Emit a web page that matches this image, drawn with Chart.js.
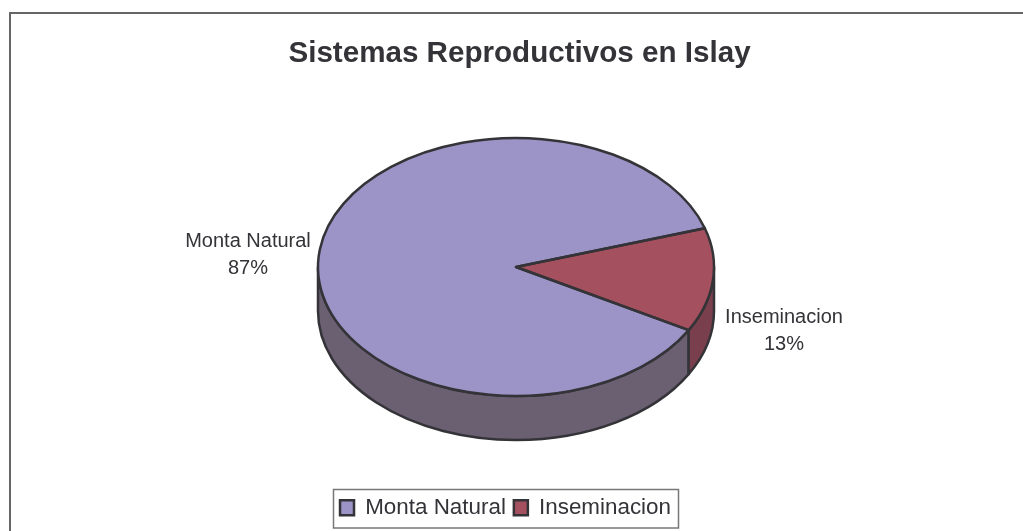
<!DOCTYPE html>
<html>
<head>
<meta charset="utf-8">
<style>
  html, body { margin: 0; background: #fff; overflow: hidden; }
  canvas { display: block; }
</style>
<script src="https://cdn.jsdelivr.net/npm/chart.js@4"></script>
</head>
<body>
<canvas id="pieChart" width="1023" height="531"></canvas>
<script>
const categories = ["Monta Natural", "Inseminacion"];
const percentages = [87, 13];
const topColors = ["#9c94c6", "#a5505f"];
const sideColors = ["#6b5f72", "#7a3f4c"];
const titleText = "Sistemas Reproductivos en Islay";

const ink = "#333338";
const fontFamily = "'Liberation Sans', Arial, sans-serif";

// the 3D look: ellipse on the page and how deep the wall is
const pie3d = { cx: 516, cy: 267, rx: 198, ry: 129, depth: 44 };
const labelSpots = [{ x: 248, y: 241 }, { x: 784, y: 317 }];

function ellipseAngles(a, b, from, to) {
  // keep only the part of the slice facing the viewer (0..PI on canvas)
  const parts = [];
  for (let k = -1; k <= 1; k++) {
    const s = Math.max(a + k * 2 * Math.PI, from);
    const e = Math.min(b + k * 2 * Math.PI, to);
    if (e > s) parts.push([s, e]);
  }
  return parts;
}

const threeD = {
  id: "threeD",
  beforeDatasetsDraw(chart) {
    const { ctx } = chart;
    const { cx, cy, rx, ry, depth } = pie3d;
    const arcs = chart.getDatasetMeta(0).data;

    // walls first
    ctx.save();
    ctx.strokeStyle = ink;
    ctx.lineWidth = 2.5;
    ctx.lineJoin = "round";
    arcs.forEach((arc, i) => {
      ellipseAngles(arc.startAngle, arc.endAngle, 0, Math.PI).forEach(([s, e]) => {
        ctx.beginPath();
        ctx.ellipse(cx, cy, rx, ry, 0, s, e);
        ctx.ellipse(cx, cy + depth, rx, ry, 0, e, s, true);
        ctx.closePath();
        ctx.fillStyle = sideColors[i];
        ctx.fill();
        ctx.stroke();
      });
    });
    ctx.restore();

    // library draws the arcs squashed into the ellipse
    const first = arcs[0];
    ctx.save();
    ctx.translate(cx, cy);
    ctx.scale(rx / first.outerRadius, ry / first.outerRadius);
    ctx.translate(-first.x, -first.y);
  },
  afterDatasetsDraw(chart) {
    const { ctx } = chart;
    const { cx, cy, rx, ry } = pie3d;
    ctx.restore();

    // outlines here so the line width is not squashed too
    ctx.save();
    ctx.strokeStyle = ink;
    ctx.lineWidth = 2.5;
    ctx.lineJoin = "round";
    chart.getDatasetMeta(0).data.forEach(arc => {
      ctx.beginPath();
      ctx.moveTo(cx, cy);
      ctx.ellipse(cx, cy, rx, ry, 0, arc.startAngle, arc.endAngle);
      ctx.closePath();
      ctx.stroke();
    });
    ctx.restore();

    // data labels
    ctx.save();
    ctx.font = "20px " + fontFamily;
    ctx.fillStyle = ink;
    ctx.textAlign = "center";
    ctx.textBaseline = "middle";
    categories.forEach((name, i) => {
      ctx.fillText(name, labelSpots[i].x, labelSpots[i].y);
      ctx.fillText(percentages[i] + "%", labelSpots[i].x, labelSpots[i].y + 27);
    });
    ctx.restore();
  }
};

const frame = {
  id: "frame",
  afterLayout(chart) {
    // title sits right of the legend centre in the original
    chart.titleBlock.left += 14;
    chart.titleBlock.right += 14;
  },
  beforeDraw(chart) {
    const { ctx, width, height } = chart;
    ctx.save();
    ctx.strokeStyle = "#666";
    ctx.lineWidth = 2;
    ctx.beginPath();
    ctx.moveTo(10, height);
    ctx.lineTo(10, 13);
    ctx.lineTo(width, 13);
    ctx.stroke();
    ctx.restore();
  },
  afterDraw(chart) {
    const { ctx } = chart;
    ctx.save();
    ctx.strokeStyle = "#777";
    ctx.lineWidth = 1.5;
    ctx.strokeRect(333.5, 489.5, 345, 38.5);
    ctx.restore();
  }
};

new Chart(document.getElementById("pieChart"), {
  type: "pie",
  data: {
    labels: categories,
    datasets: [{
      data: percentages,
      backgroundColor: topColors,
      borderWidth: 0,
      hoverOffset: 0
    }]
  },
  options: {
    responsive: false,
    animation: false,
    rotation: 119.3,
    layout: { padding: { left: 0, right: 12, top: 0, bottom: 2 } },
    plugins: {
      tooltip: { enabled: false },
      title: {
        display: true,
        text: titleText,
        color: ink,
        font: { family: fontFamily, size: 29.6, weight: "bold" },
        padding: { top: 36, bottom: 20 }
      },
      legend: {
        position: "bottom",
        labels: {
          color: ink,
          font: { family: fontFamily, size: 22.4 },
          boxWidth: 14,
          boxHeight: 15,
          padding: 8,
          generateLabels(chart) {
            return Chart.overrides.pie.plugins.legend.labels.generateLabels(chart).map(item => {
              item.strokeStyle = ink;
              item.lineWidth = 2.5;
              return item;
            });
          }
        }
      }
    }
  },
  plugins: [frame, threeD]
});
</script>
</body>
</html>
